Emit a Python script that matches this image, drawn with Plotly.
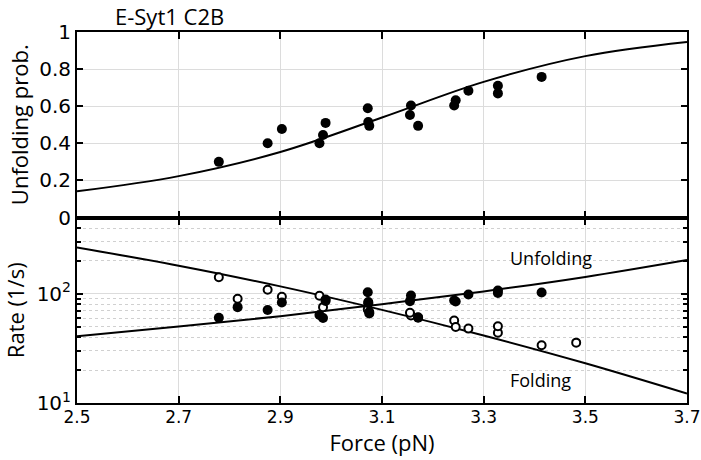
import plotly.graph_objects as go
from plotly.subplots import make_subplots

# ---- data ----
# top panel: unfolding probability
prob_force = [2.779, 2.875, 2.903, 2.977, 2.984, 2.989, 3.072, 3.073, 3.075,
              3.157, 3.155, 3.171, 3.242, 3.245, 3.270, 3.328, 3.328, 3.414]
prob_value = [0.30, 0.40, 0.477, 0.40, 0.445, 0.51, 0.589, 0.515, 0.494,
              0.604, 0.553, 0.494, 0.604, 0.632, 0.683, 0.71, 0.669, 0.758]

# bottom panel: rates (1/s)
unf_force = [2.779, 2.816, 2.875, 2.903, 2.977, 2.984, 2.989, 3.072, 3.073, 3.075,
             3.157, 3.155, 3.171, 3.242, 3.245, 3.270, 3.328, 3.328, 3.414]
unf_rate = [60.4, 75.5, 71, 83.4, 64, 60, 88.7, 103.5, 82, 66,
            96.6, 85.7, 60.4, 87, 85, 98.6, 107, 102, 102.8]

fold_force = [2.779, 2.816, 2.875, 2.903, 2.977, 2.984, 2.989, 3.072, 3.073, 3.075,
              3.157, 3.155, 3.171, 3.242, 3.245, 3.270, 3.328, 3.328, 3.414, 3.482]
fold_rate = [141.6, 90, 109, 94, 96, 75.5, 86, 72, 84, 68,
             63.3, 67, 61, 57, 49.6, 48, 44, 50.4, 33.8, 35.7]

# model curves
curve_force = [2.5, 2.7, 2.9, 3.1, 3.3, 3.5, 3.7]
curve_prob = [0.141, 0.223, 0.353, 0.539, 0.731, 0.870, 0.946]
curve_unf = [40.8, 50.1, 62.4, 80.4, 105.2, 142.9, 204.2]
curve_fold = [266, 181, 117, 71.3, 41.5, 23.1, 12.2]

x_ticks = [2.5, 2.7, 2.9, 3.1, 3.3, 3.5, 3.7]
prob_ticks = [0, 0.2, 0.4, 0.6, 0.8, 1]
rate_major = [10, 100]
rate_minor = [20, 30, 40, 50, 60, 70, 80, 90, 200, 300, 400, 500]

XTICKFONT = dict(family="DejaVu Sans, sans-serif", size=17, color="black")
YTICKFONT = dict(family="DejaVu Sans, sans-serif", size=20, color="black")
TITLEFONT = dict(family="Open Sans, sans-serif", size=22, color="black")

fig = make_subplots(rows=2, cols=1, shared_xaxes=True, vertical_spacing=0)

fig.add_trace(go.Scatter(x=curve_force, y=curve_prob, mode="lines",
                         line=dict(color="black", width=2, shape="spline"),
                         showlegend=False), row=1, col=1)
fig.add_trace(go.Scatter(x=prob_force, y=prob_value, mode="markers",
                         marker=dict(color="black", size=10),
                         showlegend=False), row=1, col=1)

fig.add_trace(go.Scatter(x=curve_force, y=curve_unf, mode="lines",
                         line=dict(color="black", width=2, shape="spline"),
                         showlegend=False), row=2, col=1)
fig.add_trace(go.Scatter(x=curve_force, y=curve_fold, mode="lines",
                         line=dict(color="black", width=2, shape="spline"),
                         showlegend=False), row=2, col=1)
fig.add_trace(go.Scatter(x=fold_force, y=fold_rate, mode="markers",
                         marker=dict(symbol="circle", color="white", size=8,
                                     line=dict(color="black", width=2)),
                         showlegend=False), row=2, col=1)
fig.add_trace(go.Scatter(x=unf_force, y=unf_rate, mode="markers",
                         marker=dict(color="black", size=10),
                         showlegend=False), row=2, col=1)

common_x = dict(range=[2.5, 3.7], tickvals=x_ticks, ticks="inside", ticklen=7,
                tickwidth=1.5, tickcolor="black", showline=True, linecolor="black",
                linewidth=2, mirror="ticks", showgrid=True, gridcolor="#dcdcdc",
                gridwidth=1, zeroline=False, tickfont=XTICKFONT, automargin=False)

fig.update_xaxes(**common_x, showticklabels=False, row=1, col=1)
fig.update_xaxes(**common_x, showticklabels=True, tickformat=".1f",
                 ticklabelstandoff=-2,
                 title=dict(text="Force (pN)", font=TITLEFONT, standoff=0),
                 row=2, col=1)

fig.update_yaxes(range=[0, 1], tickvals=prob_ticks, ticktext=["0", "0.2", "0.4", "0.6", "0.8", "1"],
                 ticks="inside", ticklen=6, tickwidth=1.5, tickcolor="black",
                 showline=True, linecolor="black", linewidth=2, mirror="ticks",
                 showgrid=True, gridcolor="#dcdcdc", zeroline=False, tickfont=YTICKFONT,
                 automargin=False,
                 title=dict(text="Unfolding prob.", font=TITLEFONT, standoff=4),
                 row=1, col=1)

fig.update_yaxes(type="log", range=[1, 2.699], tickvals=rate_major,
                 ticktext=["10<sup>1</sup>", "10<sup>2</sup>"],
                 ticks="inside", ticklen=6, tickwidth=1.5, tickcolor="black",
                 showline=True, linecolor="black", linewidth=2, mirror="ticks",
                 showgrid=True, gridcolor="#dcdcdc", zeroline=False, tickfont=YTICKFONT,
                 automargin=False,
                 minor=dict(tickmode="array", tickvals=rate_minor, ticks="inside",
                            ticklen=4, tickcolor="black", showgrid=True,
                            gridcolor="#d0d0d0", griddash="dot", gridwidth=1),
                 title=dict(text="Rate (1/s)", font=TITLEFONT, standoff=10),
                 row=2, col=1)

fig.update_layout(
    width=701, height=460,
    margin=dict(l=77, r=14, t=32, b=57),
    plot_bgcolor="white", paper_bgcolor="white",
    annotations=[
        dict(text="E-Syt1 C2B", xref="paper", yref="paper", x=0.059, y=1.043,
             xanchor="left", yanchor="middle", showarrow=False,
             font=dict(family="Open Sans, sans-serif", size=22, color="black")),
        dict(text="Unfolding", xref="x2", yref="y2", x=3.433, y=2.331,
             xanchor="center", yanchor="middle", showarrow=False,
             font=dict(family="Open Sans, sans-serif", size=18, color="black")),
        dict(text="Folding", xref="x2", yref="y2", x=3.412, y=1.21,
             xanchor="center", yanchor="middle", showarrow=False,
             font=dict(family="Open Sans, sans-serif", size=18, color="black")),
    ],
)

fig.write_html(
    "out.html",
    config={"displayModeBar": False},
    post_script="document.body.style.margin='0';document.body.style.overflow='hidden';",
)
